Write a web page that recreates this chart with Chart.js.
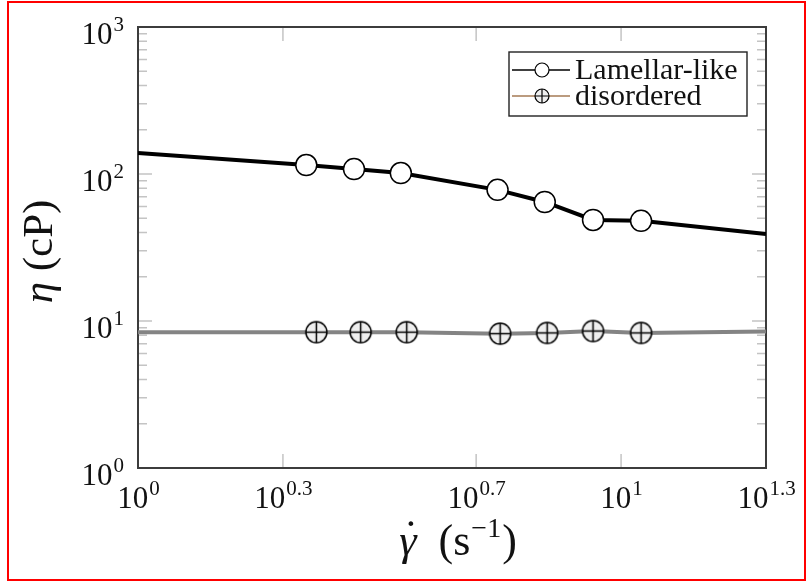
<!DOCTYPE html>
<html>
<head>
<meta charset="utf-8">
<script src="https://cdn.jsdelivr.net/npm/chart.js@4.4.1/dist/chart.umd.min.js"></script>
<style>
  html, body { margin: 0; padding: 0; background: #fff; }
  #wrap { width: 808px; height: 582px; }
</style>
</head>
<body>
<div id="wrap"><canvas id="chart" width="808" height="582"></canvas></div>
<script>
// shear rate (1/s) -> viscosity (cP)
const lamellarX = [2.23, 2.80, 3.50, 5.55, 6.95, 8.75, 11.0];
const lamellarY = [115, 108, 101.5, 78, 64.5, 48.7, 48];
const lamellarCurveX = [1, 2.23, 2.80, 3.50, 5.55, 6.95, 8.75, 11.0, 19.95];
const lamellarCurveY = [139, 115, 108, 101.5, 78, 64.5, 48.7, 48, 39];

const disorderedX = [2.34, 2.89, 3.60, 5.62, 7.03, 8.75, 11.0];
const disorderedY = [8.4, 8.4, 8.4, 8.2, 8.3, 8.55, 8.3];
const disorderedCurveX = [1, 2.34, 2.89, 3.60, 5.62, 7.03, 8.75, 11.0, 19.95];
const disorderedCurveY = [8.4, 8.4, 8.4, 8.4, 8.2, 8.3, 8.55, 8.3, 8.5];

const seriesLabels = ['Lamellar-like', 'disordered'];
const xTickExp = ['0', '0.3', '0.7', '1', '1.3'];
const yTickExp = ['0', '1', '2', '3'];

const SERIF = '"Liberation Serif", "DejaVu Serif", serif';

function zip(xs, ys) {
    return xs.map((x, i) => ({ x: x, y: ys[i] }));
}

// circle with a plus inside, used as point style
function makeOplus(r, lw) {
    const c = document.createElement('canvas');
    const s = Math.ceil(2 * r + lw + 2);
    c.width = s;
    c.height = s;
    const g = c.getContext('2d');
    const m = s / 2;
    g.beginPath();
    g.arc(m, m, r, 0, Math.PI * 2);
    g.fillStyle = '#efefef';
    g.fill();
    g.lineWidth = lw;
    g.strokeStyle = '#000';
    g.stroke();
    g.beginPath();
    g.moveTo(m - r, m); g.lineTo(m + r, m);
    g.moveTo(m, m - r); g.lineTo(m, m + r);
    g.stroke();
    return c;
}

const oplusBig = makeOplus(10.5, 1.5);
const oplusSmall = makeOplus(7, 1.2);

function drawPow(ctx, x, y, exp, align) {
    ctx.font = '31px ' + SERIF;
    const wb = ctx.measureText('10').width;
    ctx.font = '21px ' + SERIF;
    const we = ctx.measureText(exp).width;
    const w = wb + we;
    let x0 = x;
    if (align === 'right') x0 = x - w;
    if (align === 'center') x0 = x - w / 2;
    ctx.textAlign = 'left';
    ctx.textBaseline = 'alphabetic';
    ctx.fillStyle = '#111';
    ctx.font = '31px ' + SERIF;
    ctx.fillText('10', x0, y);
    ctx.font = '21px ' + SERIF;
    ctx.fillText(exp, x0 + wb + 1, y - 13);
}

const framePlugin = {
    id: 'frame',
    beforeDatasetsDraw(chart) {
        const ctx = chart.ctx;
        const a = chart.chartArea;
        const xs = chart.scales.x;
        const ys = chart.scales.y;
        ctx.save();
        ctx.strokeStyle = '#c4c4c4';
        ctx.lineWidth = 1.5;
        ctx.beginPath();
        // x ticks, top and bottom, pointing inward
        xTickExp.forEach(e => {
            const px = xs.getPixelForValue(Math.pow(10, parseFloat(e)));
            ctx.moveTo(px, a.bottom); ctx.lineTo(px, a.bottom - 14);
            ctx.moveTo(px, a.top); ctx.lineTo(px, a.top + 14);
        });
        // y ticks, major + minor, left and right
        for (let d = 0; d < 3; d++) {
            for (let k = 1; k <= 9; k++) {
                const v = k * Math.pow(10, d);
                const py = ys.getPixelForValue(v);
                const len = k === 1 ? 14 : 9;
                ctx.moveTo(a.left, py); ctx.lineTo(a.left + len, py);
                ctx.moveTo(a.right, py); ctx.lineTo(a.right - len, py);
            }
        }
        ctx.stroke();
        ctx.strokeStyle = '#3c3c3c';
        ctx.lineWidth = 2;
        ctx.strokeRect(a.left, a.top, a.right - a.left, a.bottom - a.top);
        ctx.restore();
    },
    afterDraw(chart) {
        const ctx = chart.ctx;
        const a = chart.chartArea;
        const xs = chart.scales.x;
        const ys = chart.scales.y;
        ctx.save();
        yTickExp.forEach(e => {
            const py = ys.getPixelForValue(Math.pow(10, parseFloat(e)));
            drawPow(ctx, a.left - 15, py + 16.5, e, 'right');
        });
        xTickExp.forEach(e => {
            const px = xs.getPixelForValue(Math.pow(10, parseFloat(e)));
            drawPow(ctx, px, a.bottom + 40, e, 'center');
        });

        // y axis title
        ctx.save();
        ctx.translate(52, (a.top + a.bottom) / 2 + 4);
        ctx.rotate(-Math.PI / 2);
        ctx.fillStyle = '#111';
        ctx.textBaseline = 'alphabetic';
        ctx.textAlign = 'left';
        ctx.font = 'italic 43px ' + SERIF;
        const w1 = ctx.measureText('η').width;
        ctx.font = '43px ' + SERIF;
        const w2 = ctx.measureText(' (cP)').width;
        let x0 = -(w1 + w2) / 2;
        ctx.font = 'italic 43px ' + SERIF;
        ctx.fillText('η', x0, 0);
        ctx.font = '43px ' + SERIF;
        ctx.fillText(' (cP)', x0 + w1, 0);
        ctx.restore();

        // x axis title: gamma with a dot above, then (s^-1)
        const base = 555;
        ctx.fillStyle = '#111';
        ctx.textAlign = 'left';
        ctx.textBaseline = 'alphabetic';
        ctx.font = 'italic 44px ' + SERIF;
        const wg = ctx.measureText('γ').width;
        ctx.font = '44px ' + SERIF;
        const ws = ctx.measureText('  (s').width;
        const wp = ctx.measureText(')').width;
        ctx.font = '28px ' + SERIF;
        const wx = ctx.measureText('−1').width;
        let tx = (a.left + a.right) / 2 + 5 - (wg + ws + wx + wp) / 2;
        ctx.font = 'italic 44px ' + SERIF;
        ctx.fillText('γ', tx, base);
        ctx.textAlign = 'center';
        ctx.font = '44px ' + SERIF;
        ctx.fillText('˙', tx + wg / 2 + 3, base - 4);
        ctx.textAlign = 'left';
        tx += wg;
        ctx.fillText('  (s', tx, base);
        tx += ws;
        ctx.font = '28px ' + SERIF;
        ctx.fillText('−1', tx + 1, base - 18);
        tx += wx + 2;
        ctx.font = '44px ' + SERIF;
        ctx.fillText(')', tx, base);

        // outer red frame
        ctx.strokeStyle = '#ff0000';
        ctx.lineWidth = 2;
        ctx.strokeRect(8, 2, 797, 578);
        ctx.restore();
    }
};

const legendPlugin = {
    id: 'boxLegend',
    afterDatasetsDraw(chart) {
        const ctx = chart.ctx;
        const a = chart.chartArea;
        const items = chart.data.datasets.filter(d => d.legendLine);
        const right = a.right - 19;
        const left = right - 238;
        const top = a.top + 25;
        const rowH = 26;
        const height = 12 + rowH * items.length;
        ctx.save();
        ctx.fillStyle = '#fff';
        ctx.fillRect(left, top, right - left, height);
        ctx.strokeStyle = '#222';
        ctx.lineWidth = 1.4;
        ctx.strokeRect(left, top, right - left, height);
        items.forEach((d, i) => {
            const cy = top + 18 + i * rowH;
            ctx.strokeStyle = d.legendLine;
            ctx.lineWidth = 1.5;
            ctx.beginPath();
            ctx.moveTo(left + 3, cy);
            ctx.lineTo(left + 61, cy);
            ctx.stroke();
            const mx = left + 33;
            if (d.pointStyle === 'circle') {
                ctx.beginPath();
                ctx.arc(mx, cy, 7, 0, Math.PI * 2);
                ctx.fillStyle = '#fff';
                ctx.fill();
                ctx.strokeStyle = '#000';
                ctx.lineWidth = 1.2;
                ctx.stroke();
            } else {
                ctx.drawImage(oplusSmall, mx - oplusSmall.width / 2, cy - oplusSmall.height / 2);
            }
            ctx.fillStyle = '#111';
            ctx.font = '30px ' + SERIF;
            ctx.textAlign = 'left';
            ctx.textBaseline = 'alphabetic';
            ctx.fillText(d.label, left + 66, cy + 9);
        });
        ctx.restore();
    }
};

const ctx = document.getElementById('chart').getContext('2d');
new Chart(ctx, {
    type: 'line',
    data: {
        datasets: [
            {
                label: seriesLabels[0],
                data: zip(lamellarX, lamellarY),
                showLine: false,
                pointStyle: 'circle',
                pointRadius: 10.5,
                pointBackgroundColor: '#fff',
                pointBorderColor: '#000',
                pointBorderWidth: 1.5,
                legendLine: '#000',
                order: 0
            },
            {
                label: seriesLabels[1],
                data: zip(disorderedX, disorderedY),
                showLine: false,
                pointStyle: oplusBig,
                pointRadius: 10.5,
                legendLine: '#a57a55',
                order: 0
            },
            {
                label: 'lamellar curve',
                data: zip(lamellarCurveX, lamellarCurveY),
                borderColor: '#000',
                borderWidth: 4,
                pointRadius: 0,
                tension: 0,
                fill: false,
                order: 1
            },
            {
                label: 'disordered curve',
                data: zip(disorderedCurveX, disorderedCurveY),
                borderColor: '#848484',
                borderWidth: 4,
                pointRadius: 0,
                tension: 0,
                fill: false,
                order: 1
            }
        ]
    },
    options: {
        responsive: false,
        animation: false,
        events: [],
        layout: {
            padding: { left: 138, right: 42, top: 27, bottom: 114 }
        },
        plugins: {
            legend: { display: false },
            tooltip: { enabled: false }
        },
        scales: {
            x: { type: 'logarithmic', min: 1, max: Math.pow(10, 1.3), display: false },
            y: { type: 'logarithmic', min: 1, max: 1000, display: false }
        }
    },
    plugins: [framePlugin, legendPlugin]
});
</script>
</body>
</html>
